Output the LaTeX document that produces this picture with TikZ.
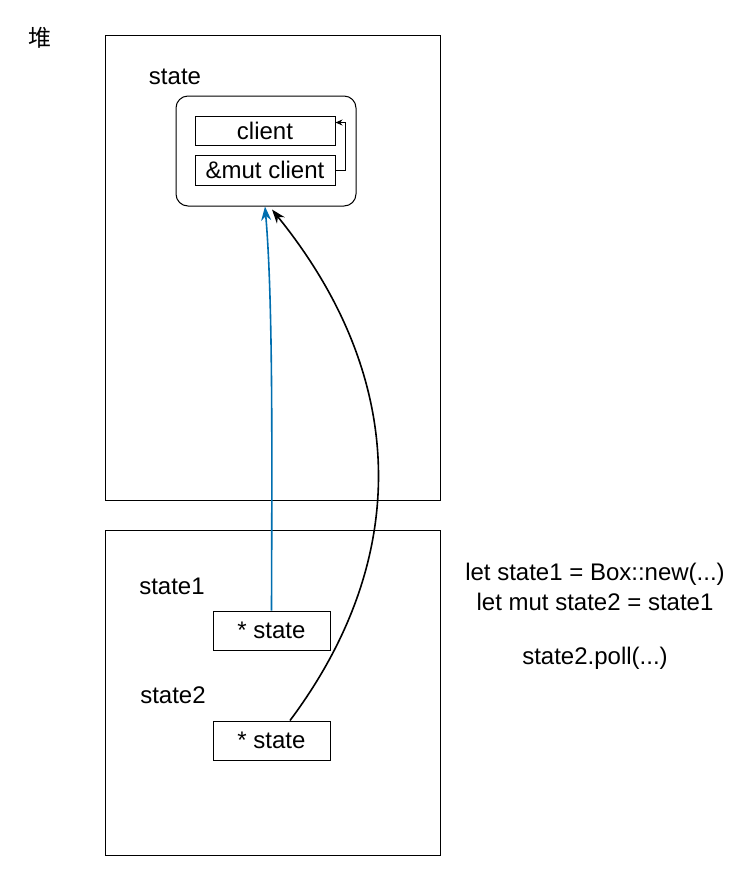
\documentclass[tikz,border=0pt]{standalone}
\usepackage{fontspec}
\setmainfont{Liberation Sans}
\newfontfamily\cjk{Noto Sans CJK SC}
\usetikzlibrary{arrows.meta}
\definecolor{linkblue}{RGB}{0,110,175}
\tikzset{
  frame/.style={draw=black, line width=1pt, inner sep=0pt},
  cell/.style={draw=black, line width=1pt, inner sep=0pt, font=\fontsize{24}{28}\selectfont},
  lbl/.style={inner sep=0pt, font=\fontsize{24}{28}\selectfont},
  conn/.style={line width=1.6pt, -{Stealth[length=14pt,width=10pt]}},
}
\begin{document}
\begin{tikzpicture}[x=1pt,y=-1pt]
\useasboundingbox (0,0) rectangle (751,876);
\node[frame, minimum width=335pt, minimum height=465pt] (heap) at (272.5,267.5) {};
\node[frame, minimum width=335pt, minimum height=325pt] (stack) at (272.5,692.5) {};
\node[lbl, font=\cjk\fontsize{23}{27}\selectfont] (dui) at (40,38) {堆};
\node[lbl] (statelbl) at (175,77) {state};
\node[frame, rounded corners=12pt, minimum width=180pt, minimum height=110pt] (obj) at (266,151) {};
\node[cell, minimum width=140pt, minimum height=29pt] (client) at (265,130.5) {client};
\node[cell, minimum width=140pt, minimum height=30pt] (mutclient) at (265,170) {\&mut client};
\node[lbl] (s1lbl) at (172,586) {state1};
\node[lbl] (s2lbl) at (173,695) {state2};
\node[cell, minimum width=117pt, minimum height=39pt] (p1) at (271.5,630.5) {* state};
\node[cell, minimum width=117pt, minimum height=39pt] (p2) at (271.5,740.5) {* state};
\node[lbl] (code1) at (595,574) {let state1 = Box::new(...)};
\node[lbl] (code2) at (595,602) {let mut state2 = state1};
\node[lbl] (code3) at (595,658) {state2.poll(...)};
\draw[line width=1pt, -{Stealth[length=7pt,width=6pt]}] (mutclient.east) -- ++(10,0) |- ([yshift=8pt]client.east);
\draw[conn, draw=linkblue, -{Stealth[length=14pt,width=10pt,fill=linkblue]}] (p1.north) .. controls (272,450) and (273,300) .. ([xshift=-1pt]obj.south);
\draw[conn] ([xshift=18.5pt]p2.north) .. controls (410,560) and (410,380) .. ([xshift=6pt,yshift=-3pt]obj.south);
\end{tikzpicture}
\end{document}
